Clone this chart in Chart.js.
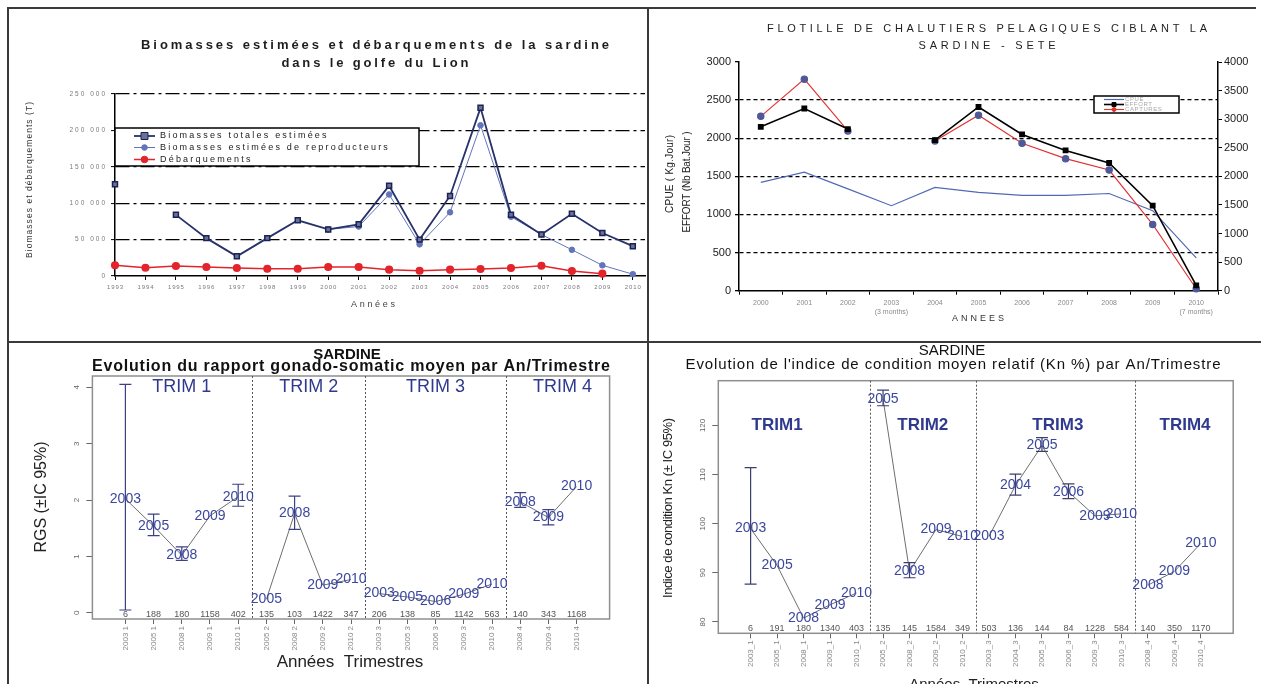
<!DOCTYPE html>
<html lang="fr">
<head>
<meta charset="utf-8">
<title>Sardine - golfe du Lion</title>
<script src="https://cdn.jsdelivr.net/npm/chart.js@4.4.1/dist/chart.umd.min.js"></script>
<style>
  html, body { margin: 0; padding: 0; background: #fff; }
  body { position: relative; width: 1261px; height: 684px; overflow: hidden; }
  canvas { position: absolute; left: 0; top: 0; }
  .rule { position: absolute; background: #3a3a3a; }
</style>
</head>
<body>
<div class="rule" style="left:7px;top:7px;width:1249px;height:2px"></div>
<div class="rule" style="left:7px;top:7px;width:2px;height:677px"></div>
<div class="rule" style="left:647px;top:7px;width:2px;height:677px"></div>
<div class="rule" style="left:7px;top:341px;width:1254px;height:2px"></div>
<canvas id="bio" width="1261" height="684"></canvas>
<canvas id="fleet" width="1261" height="684"></canvas>
<canvas id="rgs" width="1261" height="684"></canvas>
<canvas id="kn" width="1261" height="684"></canvas>
<script>
// --- haut gauche : biomasses et débarquements
const bioYears = ['1993', '1994', '1995', '1996', '1997', '1998', '1999', '2000', '2001',
  '2002', '2003', '2004', '2005', '2006', '2007', '2008', '2009', '2010'];
const bioTotal = [126000, null, 84000, 52000, 27000, 52000, 76500, 64000, 71000,
  124000, 50000, 110000, 231000, 84000, 57000, 85500, 59000, 41000];
const bioSpawners = [null, null, null, null, null, null, null, 64000, 68000,
  112000, 43500, 87500, 207000, 81500, 57000, 36000, 14700, 2500];
const bioLandings = [14700, 11400, 13700, 12400, 11000, 10000, 10000, 12400, 12400,
  8700, 7300, 8700, 9600, 11000, 14000, 6900, 3200, null];
const bioTicks = [0, 50000, 100000, 150000, 200000, 250000];

// --- haut droite : flottille Sète
const fleetYears = [['2000'], ['2001'], ['2002'], ['2003', '(3 months)'], ['2004'], ['2005'],
  ['2006'], ['2007'], ['2008'], ['2009'], ['2010', '(7 months)']];
const fleetCpue = [1420, 1555, 1335, 1115, 1355, 1290, 1250, 1250, 1275, 1050, 430];
const fleetEffort = [2150, 2390, 2120, null, 1975, 2410, 2050, 1840, 1675, 1115, 70];
const fleetCatch = [3050, 3700, 2795, null, 2620, 3070, 2580, 2310, 2110, 1160, 35];
const fleetLeftTicks = [0, 500, 1000, 1500, 2000, 2500, 3000];
const fleetRightTicks = [0, 500, 1000, 1500, 2000, 2500, 3000, 3500, 4000];

// --- bas gauche : RGS
const rgsLabels = ['2003 1', '2005 1', '2008 1', '2009 1', '2010 1', '2005 2', '2008 2', '2009 2', '2010 2',
  '2003 3', '2005 3', '2006 3', '2009 3', '2010 3', '2008 4', '2009 4', '2010 4'];
const rgsMean = [2.02, 1.54, 1.02, 1.72, 2.06, 0.24, 1.76, 0.49, 0.59, 0.34, 0.28, 0.20, 0.33, 0.51, 1.97, 1.69, 2.24];
const rgsLow = [0.05, 1.37, 0.93, null, 1.89, null, 1.48, null, null, null, null, null, null, null, 1.87, 1.56, null];
const rgsHigh = [4.05, 1.75, 1.17, null, 2.28, null, 2.07, null, null, null, null, null, null, null, 2.13, 1.83, null];
const rgsN = [6, 188, 180, 1158, 402, 135, 103, 1422, 347, 206, 138, 85, 1142, 563, 140, 343, 1168];
const rgsTicks = [0, 1, 2, 3, 4];
const rgsTrimNames = ['TRIM 1', 'TRIM 2', 'TRIM 3', 'TRIM 4'];
const rgsTrimAt = [3, 7.5, 12, 16.5];

// --- bas droite : Kn
const knLabels = ['2003_1', '2005_1', '2008_1', '2009_1', '2010_1', '2005_2', '2008_2', '2009_2', '2010_2',
  '2003_3', '2004_3', '2005_3', '2006_3', '2009_3', '2010_3', '2008_4', '2009_4', '2010_4'];
const knMean = [99.0, 91.5, 80.8, 83.5, 85.9, 125.4, 90.3, 98.8, 97.4, 97.4, 107.8, 115.9, 106.5, 101.6, 102.0, 87.5, 90.3, 96.0];
const knLow = [87.7, null, null, null, null, 124.0, 89.0, null, null, null, 105.8, 114.7, 105.1, null, null, null, null, null];
const knHigh = [111.4, null, null, null, null, 127.2, 92.1, null, null, null, 110.1, 117.5, 108.1, null, null, null, null, null];
const knN = [6, 191, 180, 1340, 403, 135, 145, 1584, 349, 503, 136, 144, 84, 1228, 584, 140, 350, 1170];
const knTicks = [80, 90, 100, 110, 120];
const knTrimNames = ['TRIM1', 'TRIM2', 'TRIM3', 'TRIM4'];
const knTrimAt = [2, 7.5, 12.6, 17.4];

const FONT = "'Liberation Sans', Arial, sans-serif";
Chart.defaults.font.family = FONT;
const f = (s) => s + ' ' + FONT;

// text with letter spacing, optionally stretched to a given width
function spacedText(ctx, text, x, y, opt) {
  ctx.save();
  ctx.font = opt.font;
  ctx.fillStyle = opt.color || '#222';
  ctx.textBaseline = 'middle';
  ctx.textAlign = 'left';
  ctx.letterSpacing = '0px';
  const n = text.length;
  const raw = ctx.measureText(text).width;
  let sp = opt.spacing || 0;
  if (opt.width) sp = (opt.width - raw) / Math.max(n - 1, 1);
  ctx.letterSpacing = sp + 'px';
  const w = raw + sp * (n - 1);
  ctx.translate(x, y);
  if (opt.rotate) ctx.rotate(opt.rotate);
  const start = opt.align === 'center' ? -w / 2 : opt.align === 'right' ? -w : 0;
  ctx.fillText(text, start, 0);
  ctx.restore();
}

function legendSample(ctx, ds, x1, x2, y) {
  ctx.save();
  ctx.strokeStyle = ds.borderColor;
  ctx.lineWidth = ds.borderWidth;
  ctx.beginPath(); ctx.moveTo(x1, y); ctx.lineTo(x2, y); ctx.stroke();
  if (ds.pointRadius) {
    const r = ds.pointRadius, cx = (x1 + x2) / 2;
    ctx.fillStyle = ds.legendPoint || ds.pointBackgroundColor || ds.backgroundColor || ds.borderColor;
    ctx.strokeStyle = ds.pointBorderColor || ds.borderColor;
    ctx.lineWidth = 1;
    ctx.beginPath();
    if (ds.pointStyle === 'rect') ctx.rect(cx - r, y - r, 2 * r, 2 * r);
    else ctx.arc(cx, y, r, 0, Math.PI * 2);
    ctx.fill(); ctx.stroke();
  }
  ctx.restore();
}

const thousands = (v) => String(v).replace(/\B(?=(\d{3})+(?!\d))/g, ' ');
const toPoints = (arr) => arr.map((v, i) => ({ x: i, y: v }));
const fixedTicks = (list) => (s) => { s.ticks = list.map((v) => ({ value: v })); };

// ================= chart 1 =================
const bioDecor = {
  id: 'bioDecor',
  afterDraw(chart) {
    const { ctx, chartArea: a, scales: { x, y } } = chart;
    spacedText(ctx, 'Biomasses estimées et débarquements de la sardine', 375, 45,
      { font: f('bold 13px'), color: '#1e1e1e', width: 468, align: 'center' });
    spacedText(ctx, 'dans le golfe du Lion', 375, 63,
      { font: f('bold 13px'), color: '#1e1e1e', width: 187, align: 'center' });
    x.ticks.forEach((t) => spacedText(ctx, bioYears[t.value], x.getPixelForValue(t.value), a.bottom + 11,
      { font: f('6px'), color: '#7a7a7a', spacing: 0.9, align: 'center' }));
    y.ticks.forEach((t) => spacedText(ctx, thousands(t.value), a.left - 10, y.getPixelForValue(t.value),
      { font: f('6.5px'), color: '#7a7a7a', spacing: 2, align: 'right' }));
    spacedText(ctx, 'Années', 373, 305, { font: f('9px'), color: '#444', width: 44, align: 'center' });
    spacedText(ctx, 'Biomasses et débarquements (T)', 30, 180,
      { font: f('8.5px'), color: '#333', width: 156, align: 'center', rotate: -Math.PI / 2 });

    // legend box
    ctx.save();
    ctx.fillStyle = '#fff';
    ctx.fillRect(115, 128, 304, 38);
    ctx.strokeStyle = '#000';
    ctx.lineWidth = 1.5;
    ctx.strokeRect(115, 128, 304, 38);
    ctx.restore();
    const rows = [136, 147.5, 159.5];
    chart.data.datasets.forEach((ds, i) => {
      legendSample(ctx, ds, 134, 155, rows[i]);
      spacedText(ctx, ds.label, 160, rows[i], { font: f('9px'), color: '#222', spacing: 2.2 });
    });
  }
};

new Chart(document.getElementById('bio'), {
  type: 'line',
  data: {
    datasets: [
      {
        label: 'Biomasses totales estimées', data: toPoints(bioTotal),
        borderColor: '#27316a', borderWidth: 1.8, pointStyle: 'rect', pointRadius: 3.5,
        pointBackgroundColor: '#6a7299', pointBorderColor: '#1b2254', pointBorderWidth: 1.5, clip: false
      },
      {
        label: 'Biomasses estimées de reproducteurs', data: toPoints(bioSpawners),
        borderColor: '#6274bb', borderWidth: 1, pointRadius: 2.8,
        pointBackgroundColor: '#6274bb', pointBorderColor: '#6274bb', clip: false
      },
      {
        label: 'Débarquements', data: toPoints(bioLandings),
        borderColor: '#e3242b', borderWidth: 1.5, pointRadius: 3.3,
        pointBackgroundColor: '#e3242b', pointBorderColor: '#e3242b', clip: false
      }
    ]
  },
  options: {
    responsive: false, animation: false, events: [],
    layout: { autoPadding: false, padding: { left: 55, right: 616, top: 94, bottom: 388 } },
    plugins: { legend: { display: false }, tooltip: { enabled: false } },
    scales: {
      x: {
        type: 'linear', min: 0, max: 17.4,
        afterBuildTicks: fixedTicks(bioYears.map((_, i) => i)),
        afterFit: (s) => { s.height = 20; },
        ticks: { display: false },
        grid: { drawOnChartArea: false, tickLength: 4, color: '#000' },
        border: { color: '#000', width: 1.5 }
      },
      y: {
        min: 0, max: 250000,
        afterBuildTicks: fixedTicks(bioTicks),
        afterFit: (s) => { s.width = 60; },
        ticks: { display: false },
        grid: {
          color: (c) => (c.tick && c.tick.value === 0 ? 'rgba(0,0,0,0)' : '#000'),
          lineWidth: 1.2, tickColor: '#000', tickLength: 4, tickWidth: 1
        },
        border: { color: '#000', width: 1.5, dash: [14, 4, 3, 4] }
      }
    }
  },
  plugins: [bioDecor]
});

// ================= chart 2 =================
const fleetDecor = {
  id: 'fleetDecor',
  afterDraw(chart) {
    const { ctx } = chart;
    spacedText(ctx, 'FLOTILLE DE CHALUTIERS PELAGIQUES CIBLANT LA', 987, 29,
      { font: f('11px'), color: '#1e1e1e', width: 440, align: 'center' });
    spacedText(ctx, 'SARDINE - SETE', 987, 46, { font: f('11px'), color: '#1e1e1e', width: 137, align: 'center' });
    spacedText(ctx, 'CPUE ( Kg.Jour)', 670, 174,
      { font: f('10px'), color: '#222', width: 78, align: 'center', rotate: -Math.PI / 2 });
    spacedText(ctx, 'EFFORT (Nb Bat.Jour )', 687, 182,
      { font: f('10px'), color: '#222', width: 101, align: 'center', rotate: -Math.PI / 2 });
    spacedText(ctx, 'ANNEES', 978, 319, { font: f('9px'), color: '#333', width: 52, align: 'center' });

    ctx.save();
    ctx.fillStyle = '#fff';
    ctx.fillRect(1094, 96, 85, 17);
    ctx.strokeStyle = '#000';
    ctx.lineWidth = 1.5;
    ctx.strokeRect(1094, 96, 85, 17);
    ctx.restore();
    const rows = [99.5, 104.5, 109.5];
    chart.data.datasets.forEach((ds, i) => {
      legendSample(ctx, Object.assign({}, ds, { pointRadius: ds.pointRadius ? 2 : 0, legendPoint: ds.borderColor,
        pointBorderColor: ds.borderColor }), 1104, 1124, rows[i]);
      spacedText(ctx, ds.label, 1125, rows[i], { font: f('6px'), color: '#a8a8a8', spacing: 0.6 });
    });
  }
};

new Chart(document.getElementById('fleet'), {
  type: 'line',
  data: {
    labels: fleetYears,
    datasets: [
      { label: 'CPUE', data: fleetCpue, yAxisID: 'y', borderColor: '#5169b5', borderWidth: 1.2, pointRadius: 0, order: 2, clip: false },
      {
        label: 'EFFORT', data: fleetEffort, yAxisID: 'y', borderColor: '#000', borderWidth: 1.6,
        pointStyle: 'rect', pointRadius: 3, pointBackgroundColor: '#000', pointBorderColor: '#000', order: 0, clip: false
      },
      {
        label: 'CAPTURES', data: fleetCatch, yAxisID: 'y2', borderColor: '#e2312f', borderWidth: 1.1,
        pointRadius: 3.2, pointBackgroundColor: '#4f5898', pointBorderColor: '#4f5898', order: 1, clip: false
      }
    ]
  },
  options: {
    responsive: false, animation: false, events: [],
    layout: { autoPadding: false, padding: { left: 689, right: 3, top: 62, bottom: 363.3 } },
    plugins: { legend: { display: false }, tooltip: { enabled: false } },
    scales: {
      x: {
        type: 'category', offset: true,
        afterFit: (s) => { s.height = 30; },
        ticks: { autoSkip: false, maxRotation: 0, padding: 3, color: '#8a8a8a', font: { size: 7, lineHeight: 1.4 } },
        grid: { offset: true, drawOnChartArea: false, tickLength: 4, color: '#000' },
        border: { color: '#000', width: 1.5 }
      },
      y: {
        min: 0, max: 3000,
        afterBuildTicks: fixedTicks(fleetLeftTicks),
        afterFit: (s) => { s.width = 50; },
        ticks: { color: '#1a1a1a', font: { size: 11 }, padding: 4, callback: (v) => String(v) },
        grid: {
          color: (c) => (c.tick && (c.tick.value === 0 || c.tick.value === 3000) ? 'rgba(0,0,0,0)' : '#000'),
          lineWidth: 1.3, tickColor: '#000', tickLength: 4
        },
        border: { color: '#000', width: 1.5, dash: [4, 3] }
      },
      y2: {
        position: 'right', min: 0, max: 4000,
        afterBuildTicks: fixedTicks(fleetRightTicks),
        afterFit: (s) => { s.width = 40; },
        ticks: { color: '#1a1a1a', font: { size: 11 }, padding: 2, callback: (v) => String(v) },
        grid: { drawOnChartArea: false, tickLength: 4, color: '#000' },
        border: { color: '#000', width: 1.5 }
      }
    }
  },
  plugins: [fleetDecor]
});

// ================= R style panels =================
function groupLine(values, groups) {
  const pts = [];
  values.forEach((v, i) => {
    pts.push({ x: i + 1, y: v });
    if (i < values.length - 1 && groups[i] !== groups[i + 1]) pts.push({ x: i + 1.5, y: null });
  });
  return pts;
}

function rDecor(o) {
  return {
    id: 'rDecor',
    afterDraw(chart) {
      const { ctx, chartArea: a, scales: { x, y } } = chart;
      ctx.save();
      ctx.strokeStyle = '#8f8f8f';
      ctx.lineWidth = 1.5;
      ctx.strokeRect(a.left, a.top, a.width, a.height);
      ctx.strokeStyle = '#555';
      ctx.lineWidth = 1;
      ctx.setLineDash([2, 2]);
      o.groups.forEach((g, i) => {
        if (i < o.groups.length - 1 && g !== o.groups[i + 1]) {
          const px = Math.round(x.getPixelForValue(i + 1.5)) + 0.5;
          ctx.beginPath(); ctx.moveTo(px, a.top); ctx.lineTo(px, a.bottom); ctx.stroke();
        }
      });
      ctx.setLineDash([]);
      ctx.strokeStyle = o.barColor;
      ctx.lineWidth = 1.2;
      o.low.forEach((lo, i) => {
        const hi = o.high[i];
        if (lo == null || hi == null) return;
        const px = x.getPixelForValue(i + 1), p1 = y.getPixelForValue(lo), p2 = y.getPixelForValue(hi);
        ctx.beginPath();
        ctx.moveTo(px, p1); ctx.lineTo(px, p2);
        ctx.moveTo(px - 6, p1); ctx.lineTo(px + 6, p1);
        ctx.moveTo(px - 6, p2); ctx.lineTo(px + 6, p2);
        ctx.stroke();
      });
      ctx.restore();

      o.values.forEach((v, i) => spacedText(ctx, o.labels[i].slice(0, 4), x.getPixelForValue(i + 1), y.getPixelForValue(v),
        { font: f('14px'), color: '#3b479f', align: 'center' }));
      o.counts.forEach((n, i) => spacedText(ctx, String(n), x.getPixelForValue(i + 1), a.bottom - o.countsOffset,
        { font: f('9px'), color: '#555', align: 'center' }));
      o.trimNames.forEach((t, k) => spacedText(ctx, t, x.getPixelForValue(o.trimAt[k]), y.getPixelForValue(o.trimY),
        { font: o.trimFont, color: '#2f3a8f', align: 'center' }));
      o.yTicks.forEach((v) => spacedText(ctx, String(v), a.left - 16, y.getPixelForValue(v),
        { font: f('8px'), color: '#666', align: 'center', rotate: -Math.PI / 2 }));
      o.texts.forEach((t) => spacedText(ctx, t.text, t.x, t.y, t.opt));
    }
  };
}

function rChart(id, o) {
  return new Chart(document.getElementById(id), {
    type: 'line',
    data: { datasets: [{ data: groupLine(o.values, o.groups), borderColor: '#6e6e6e', borderWidth: 1, pointRadius: 0 }] },
    options: {
      responsive: false, animation: false, events: [],
      layout: { autoPadding: false, padding: o.padding },
      plugins: { legend: { display: false }, tooltip: { enabled: false } },
      scales: {
        x: {
          type: 'linear', min: o.xMin, max: o.xMax,
          afterBuildTicks: fixedTicks(o.labels.map((_, i) => i + 1)),
          afterFit: (s) => { s.height = 45; },
          ticks: {
            autoSkip: false, minRotation: 90, maxRotation: 90, padding: 2,
            font: { size: 8 }, color: '#8a8a8a', callback: (v) => o.labels[v - 1]
          },
          grid: { drawOnChartArea: false, tickLength: 5, color: '#666' },
          border: { display: false }
        },
        y: {
          min: o.yMin, max: o.yMax,
          afterBuildTicks: fixedTicks(o.yTicks),
          afterFit: (s) => { s.width = 40; },
          ticks: { display: false },
          grid: { drawOnChartArea: false, tickLength: 6, color: '#666' },
          border: { display: false }
        }
      }
    },
    plugins: [rDecor(o)]
  });
}

rChart('rgs', {
  labels: rgsLabels, values: rgsMean, low: rgsLow, high: rgsHigh, counts: rgsN,
  groups: rgsLabels.map((l) => l.slice(-1)),
  yTicks: rgsTicks, trimNames: rgsTrimNames, trimAt: rgsTrimAt, trimY: 4, trimFont: f('18px'),
  barColor: '#3d4282', countsOffset: 4.5,
  xMin: -0.17, xMax: 18.17, yMin: -0.11, yMax: 4.2,
  padding: { left: 52.4, right: 651.4, top: 376, bottom: 20 },
  texts: [
    { text: 'SARDINE', x: 347, y: 355, opt: { font: f('bold 15px'), color: '#111', align: 'center' } },
    { text: 'Evolution du rapport gonado-somatic moyen par An/Trimestre', x: 351, y: 367,
      opt: { font: f('bold 16px'), color: '#111', width: 518, align: 'center' } },
    { text: 'RGS (±IC 95%)', x: 42, y: 497, opt: { font: f('16px'), color: '#222', align: 'center', rotate: -Math.PI / 2 } },
    { text: 'Années  Trimestres', x: 350, y: 662, opt: { font: f('17px'), color: '#222', align: 'center' } }
  ]
});

rChart('kn', {
  labels: knLabels, values: knMean, low: knLow, high: knHigh, counts: knN,
  groups: knLabels.map((l) => l.slice(-1)),
  yTicks: knTicks, trimNames: knTrimNames, trimAt: knTrimAt, trimY: 120, trimFont: f('bold 17px'),
  barColor: '#3c3f6e', countsOffset: 4.5,
  xMin: -0.22, xMax: 19.22, yMin: 77.7, yMax: 129.1,
  padding: { left: 678.3, right: 27.8, top: 380.7, bottom: 5.7 },
  texts: [
    { text: 'SARDINE', x: 952, y: 351, opt: { font: f('15px'), color: '#111', align: 'center' } },
    { text: "Evolution de l'indice de condition moyen relatif (Kn %) par An/Trimestre", x: 953, y: 365,
      opt: { font: f('15px'), color: '#111', width: 535, align: 'center' } },
    { text: 'Indice de condition Kn (± IC 95%)', x: 668, y: 508,
      opt: { font: f('13px'), color: '#222', width: 180, align: 'center', rotate: -Math.PI / 2 } },
    { text: 'Années  Trimestres', x: 974, y: 685, opt: { font: f('15px'), color: '#222', align: 'center' } }
  ]
});
</script>
</body>
</html>
